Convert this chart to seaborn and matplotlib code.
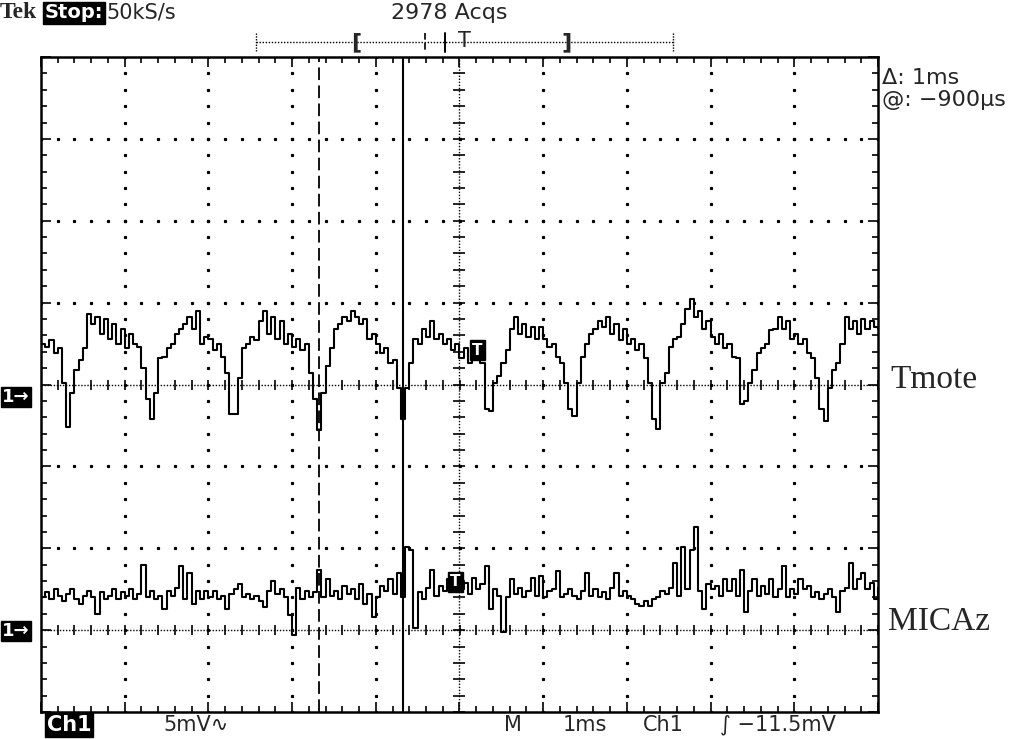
import numpy as np
import pandas as pd
import matplotlib
matplotlib.use("Agg")
import matplotlib.pyplot as plt
import seaborn as sns

# scope capture: 1 ms/div, 5 mV/div, one sample read every 0.05 ms
time_ms = [round(-5 + 0.05 * i, 2) for i in range(201)]

tmote_mv = [
    2.5, 2.3, 2.7, 1.9, 2.2, 0.1, -2.6, -0.5, 0.9, 1.5, 2.2, 4.3, 3.7, 4.1, 3.1, 4.0, 2.8, 3.7, 2.5, 3.4,
    2.2, 3.1, 2.5, 2.3, 1.0, -0.9, -2.1, -0.5, 1.6, 1.7, 2.2, 2.5, 3.1, 3.4, 3.7, 4.1, 3.4, 4.5, 2.5, 2.9,
    2.8, 2.1, 2.5, 1.7, 0.7, -1.8, -1.8, 0.4, 2.2, 2.5, 2.9, 2.7, 3.9, 4.5, 3.1, 4.1, 2.8, 3.9, 2.5, 3.1,
    2.3, 2.8, 2.1, 2.5, 0.7, -0.9, -2.8, -0.5, 1.1, 2.2, 3.4, 3.7, 4.1, 3.9, 4.5, 4.1, 3.7, 4.0, 2.8, 3.1,
    2.5, 1.9, 2.2, 1.3, 1.5, -0.2, -2.1, -0.2, 1.3, 2.8, 2.5, 3.4, 2.9, 3.9, 2.8, 3.1, 2.5, 2.8, 2.1, 2.5,
    1.6, 2.2, 1.3, 1.9, 1.7, 1.3, -1.5, -1.6, 0.1, 0.5, 1.3, 2.1, 3.4, 4.1, 3.1, 3.7, 2.9, 3.5, 2.8, 3.5,
    2.8, 2.3, 2.5, 1.7, 1.3, 0.1, -1.5, -1.9, 0.1, 1.7, 2.5, 3.1, 3.4, 3.9, 3.5, 4.1, 3.1, 3.7, 2.7, 3.4,
    2.5, 2.8, 2.1, 2.5, 1.6, 0.1, -2.1, -2.7, 0.1, 0.7, 2.3, 2.8, 2.9, 3.7, 4.6, 5.2, 4.1, 4.5, 3.4, 3.9,
    2.9, 2.5, 3.1, 2.2, 2.5, 1.7, 1.6, -1.2, -1.0, 0.1, 0.9, 1.9, 2.2, 2.5, 3.3, 3.4, 4.1, 3.4, 3.9, 2.8,
    3.1, 2.5, 2.8, 1.9, 1.6, 0.4, -1.5, -2.2, -0.2, 0.9, 1.3, 2.5, 4.1, 3.4, 3.9, 3.1, 4.0, 3.4, 3.9, 3.5, 3.4,
]

micaz_mv = [
    2.0, 2.3, 1.9, 2.5, 2.1, 1.8, 2.2, 2.5, 1.9, 1.6, 2.1, 2.4, 2.0, 1.0, 2.3, 1.9, 2.1, 2.5, 1.9, 2.3,
    2.1, 2.5, 1.9, 2.2, 4.0, 2.0, 2.4, 1.9, 2.1, 1.3, 2.4, 2.1, 2.6, 3.9, 1.9, 3.5, 1.6, 2.4, 1.9, 2.4,
    2.0, 2.4, 1.9, 2.1, 1.3, 2.2, 2.5, 2.8, 2.0, 2.2, 1.9, 2.1, 1.8, 1.4, 2.4, 3.0, 2.2, 2.5, 2.0, 0.9,
    -0.3, 2.6, 1.9, 2.4, 2.0, 2.3, 3.7, 2.0, 3.1, 2.1, 2.4, 1.9, 2.7, 2.2, 2.5, 1.9, 2.8, 1.6, 2.2, 0.8,
    2.0, 2.7, 2.4, 3.1, 2.2, 3.5, 2.0, 5.1, 4.9, 0.1, 2.3, 1.9, 2.6, 3.7, 2.1, 2.7, 2.4, 3.1, 2.5, 2.9,
    2.5, 2.9, 2.2, 3.2, 2.5, 2.8, 3.9, 1.3, 2.5, 2.1, -0.1, 2.0, 3.1, 2.2, 2.6, 2.0, 2.4, 3.2, 2.1, 3.3,
    2.0, 2.4, 2.5, 3.6, 2.0, 2.2, 2.5, 2.1, 1.9, 2.4, 3.5, 2.1, 2.5, 2.0, 2.3, 1.9, 2.6, 3.5, 2.1, 2.4,
    2.1, 1.9, 1.6, 1.5, 1.8, 1.5, 1.9, 2.0, 2.4, 2.2, 2.6, 4.1, 2.1, 5.1, 2.5, 4.9, 6.3, 2.4, 1.3, 2.8,
    2.5, 2.7, 2.1, 3.1, 2.4, 3.1, 2.1, 3.7, 1.1, 2.4, 3.1, 2.1, 2.7, 2.2, 3.1, 2.0, 2.5, 3.9, 2.0, 2.5,
    2.2, 3.1, 2.5, 2.7, 2.0, 2.3, 1.9, 2.2, 2.5, 2.0, 1.1, 2.4, 2.6, 4.1, 2.5, 3.1, 3.5, 2.5, 2.9, 1.9, 2.6,
]

trace_names = ["Tmote", "MICAz"]
ref_div = [4, 1]          # ground marker of each trace, in divisions from the bottom
mv_per_div = 5
cursor_ms = [-1.68, -0.68]  # dashed, solid -> delta 1 ms
trig_ms = [0.21, -0.05]
trig_div = [4.42, 1.59]

sns.set_style("white")
plt.rcParams["font.family"] = ["DejaVu Sans"]

df = pd.DataFrame({"t": time_ms})
df["Tmote"] = ref_div[0] + np.array(tmote_mv) / mv_per_div
df["MICAz"] = ref_div[1] + np.array(micaz_mv) / mv_per_div

fig = plt.figure(figsize=(10.24, 7.39), dpi=100)
W, H = 1024, 739
ax = fig.add_axes([41 / W, 1 - 712 / H, 837 / W, 655 / H])

# graticule
minor_x = np.arange(-5, 5.001, 0.2)
minor_y = np.arange(0, 8.001, 0.2)
for gx in [-4, -3, -2, -1, 1, 2, 3, 4]:
    ax.plot(np.full_like(minor_y, gx), minor_y, ls="none", marker="s", ms=1.3, color="black")
for gy in [2, 3, 5, 6, 7]:
    ax.plot(minor_x, np.full_like(minor_x, gy), ls="none", marker="s", ms=1.3, color="black")
ax.axvline(0, color="black", lw=1, ls=(0, (1, 1.2)))
ax.plot(np.zeros_like(minor_y), minor_y, ls="none", marker="_", ms=8, mew=1.2, color="black")
for gy in ref_div:
    ax.axhline(gy, color="black", lw=1, ls=(0, (1, 1.2)))
    ax.plot(minor_x, np.full_like(minor_x, gy), ls="none", marker="|", ms=7, mew=1.2, color="black")

# cursors
ax.axvline(cursor_ms[0], color="black", lw=1.3, ls=(0, (7, 3)))
ax.axvline(cursor_ms[1], color="black", lw=1.5)

for name in trace_names:
    sns.lineplot(data=df, x="t", y=name, color="black", lw=1.5, drawstyle="steps-post",
                 estimator=None, ax=ax, legend=False)

ax.set_xlim(-5, 5)
ax.set_ylim(0, 8)
ax.set_xlabel("")
ax.set_ylabel("")
ax.set_xticks(range(-5, 6))
ax.set_yticks(range(0, 9))
ax.set_xticks(minor_x, minor=True)
ax.set_yticks(minor_y, minor=True)
ax.tick_params(which="both", direction="in", top=True, right=True, bottom=True, left=True,
               labelleft=False, labelbottom=False, color="black", width=1.2)
ax.tick_params(which="major", length=7)
ax.tick_params(which="minor", length=4.5)
for s in ax.spines.values():
    s.set_linewidth(1.8)
    s.set_color("black")

# overlay in pixel coordinates for the scope readouts
ov = fig.add_axes([0, 0, 1, 1], facecolor="none")
ov.set_xlim(0, W)
ov.set_ylim(H, 0)
ov.axis("off")

inv = dict(color="white", fontweight="bold",
           bbox=dict(boxstyle="square,pad=0.08", fc="black", ec="black"))
ov.text(0, 13, "Tek", family="Liberation Serif", fontweight="bold", fontsize=17, va="center")
ov.text(45, 13, "Stop:", fontsize=14, va="center", **inv)
ov.text(106, 13, "50kS/s", fontsize=15, va="center")
ov.text(449, 13, "2978 Acqs", fontsize=16, va="center", ha="center")

# record bar
ov.plot([256, 673], [42, 42], color="black", lw=1, ls=(0, (1, 1.2)))
ov.plot([256, 256], [33, 51], color="black", lw=1, ls=(0, (1, 1)))
ov.plot([673, 673], [33, 51], color="black", lw=1, ls=(0, (1, 1)))
ov.text(356, 42, "[", fontsize=16, va="center", ha="center", fontweight="bold")
ov.text(567, 42, "]", fontsize=16, va="center", ha="center", fontweight="bold")
ov.plot([425, 425], [33, 52], color="black", lw=1.2, ls=(0, (4, 2)))
ov.plot([445, 445], [33, 52], color="black", lw=1.4)
ov.text(464, 41, "T", fontsize=15, va="center", ha="center")

# cursor readout
ov.text(882, 78, "\u0394: 1ms", fontsize=16, va="center")
ov.text(882, 100, "@: \u2212900\u00b5s", fontsize=16, va="center")

# bottom readout
ov.text(47, 725, "Ch1", fontsize=15, va="center", **inv)
ov.text(163, 725, "5mV\u223f", fontsize=15, va="center")
ov.text(504, 725, "M", fontsize=15, va="center")
ov.text(563, 725, "1ms", fontsize=15, va="center")
ov.text(643, 725, "Ch1", fontsize=15, va="center")
ov.text(720, 725, "\u222b \u221211.5mV", fontsize=15, va="center")

# ground markers and trace labels
for y_px in [397, 631]:
    ov.text(2, y_px, "1\u2192", fontsize=13, va="center", **inv)
ov.text(890, 380, "Tmote", family="Liberation Serif", fontsize=24, va="center")
ov.text(888, 622, "MICAz", family="Liberation Serif", fontsize=24, va="center")

# trigger markers on the traces
for tx, ty in zip(trig_ms, trig_div):
    ax.text(tx, ty, "T", fontsize=11, color="white", fontweight="bold", ha="center", va="center",
            bbox=dict(boxstyle="square,pad=0.15", fc="black", ec="black"), zorder=5)

fig.savefig("out.png", dpi=100, facecolor="white")
